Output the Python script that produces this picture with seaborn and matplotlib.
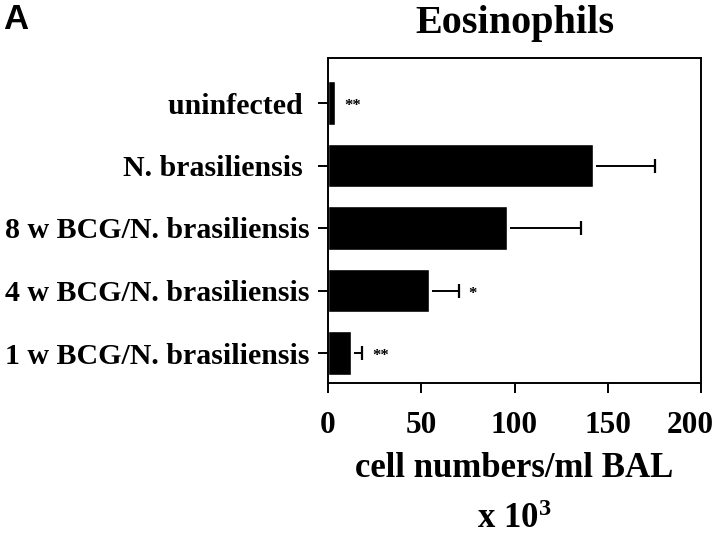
import matplotlib
matplotlib.use("Agg")
import matplotlib.pyplot as plt
import matplotlib.transforms as mtransforms
import seaborn as sns
import pandas as pd
import numpy as np

categories = ["uninfected ", "N. brasiliensis ", "8 w BCG/N. brasiliensis",
              "4 w BCG/N. brasiliensis", "1 w BCG/N. brasiliensis"]
values = [3.5, 142, 96, 54, 12.5]
errors = [0, 33.5, 39.5, 16, 5.5]
stars = ["**", "", "", "*", "**"]
xticks = [0, 50, 100, 150, 200]

sns.set_theme(style="white")
plt.rcParams['font.family'] = ['Liberation Serif', 'DejaVu Serif']
plt.rcParams['font.weight'] = 'bold'
plt.rcParams['mathtext.fontset'] = 'custom'
plt.rcParams['mathtext.rm'] = 'Liberation Serif:bold'
plt.rcParams['mathtext.bf'] = 'Liberation Serif:bold'
plt.rcParams['mathtext.it'] = 'Liberation Serif:bold:italic'
for k in ['text.color', 'axes.labelcolor', 'xtick.color', 'ytick.color']:
    plt.rcParams[k] = 'black'

df = pd.DataFrame({"cat": categories, "val": values})

fig = plt.figure(figsize=(7.2, 5.36), dpi=100)
ax = fig.add_axes([328/720, 1-383/536, 373/720, 325/536])

sns.barplot(data=df, x="val", y="cat", orient="h", color="black",
            width=0.69, saturation=1, ax=ax, errorbar=None)
ypos = np.arange(len(categories))
vals = np.array(values)
errs = np.array(errors)
has_err = errs > 0
ax.hlines(ypos[has_err], vals[has_err] + 1.5, (vals + errs)[has_err],
          color="black", linewidth=1.4)
ax.plot((vals + errs)[has_err], ypos[has_err], linestyle="none", marker="|",
        markersize=10, markeredgewidth=1.6, color="black")
for i, (v, e, s) in enumerate(zip(values, errors, stars)):
    if s:
        ax.text(v + e + 5.5, i + 0.05, s, ha="left", va="center",
                fontsize=12, fontweight="bold")

ax.set_xlim(0, 200)
ax.set_ylim(4.48, -0.72)
ax.set_xticks(xticks)
ax.set_xticklabels([str(t) for t in xticks], fontsize=22.5, fontweight="bold")
ax.set_yticks(ypos)
ax.set_yticklabels(categories, fontsize=21.5, fontweight="bold")
ax.tick_params(axis="both", which="both", direction="out", length=7, width=1.4,
               color="black", left=True, bottom=True)
ax.tick_params(axis="x", pad=13)
ax.tick_params(axis="y", pad=6)
last = ax.get_xticklabels()[-1]
last.set_transform(last.get_transform() +
                   mtransforms.ScaledTranslation(-11/100, 0, fig.dpi_scale_trans))
for sp in ax.spines.values():
    sp.set_visible(True)
    sp.set_color("black")
    sp.set_linewidth(1.4)
ax.set_xlabel("cell numbers/ml BAL\nx 10$^{3}$", fontsize=25,
              fontweight="bold", linespacing=1.7, labelpad=9)
ax.set_ylabel("")
ax.set_title("Eosinophils", fontsize=29, fontweight="bold", pad=18)
fig.text(0.005, 0.995, "A", fontsize=25, fontweight="bold",
         family=["Liberation Sans", "DejaVu Sans"], va="top", ha="left")

fig.savefig("out.png", dpi=100)
